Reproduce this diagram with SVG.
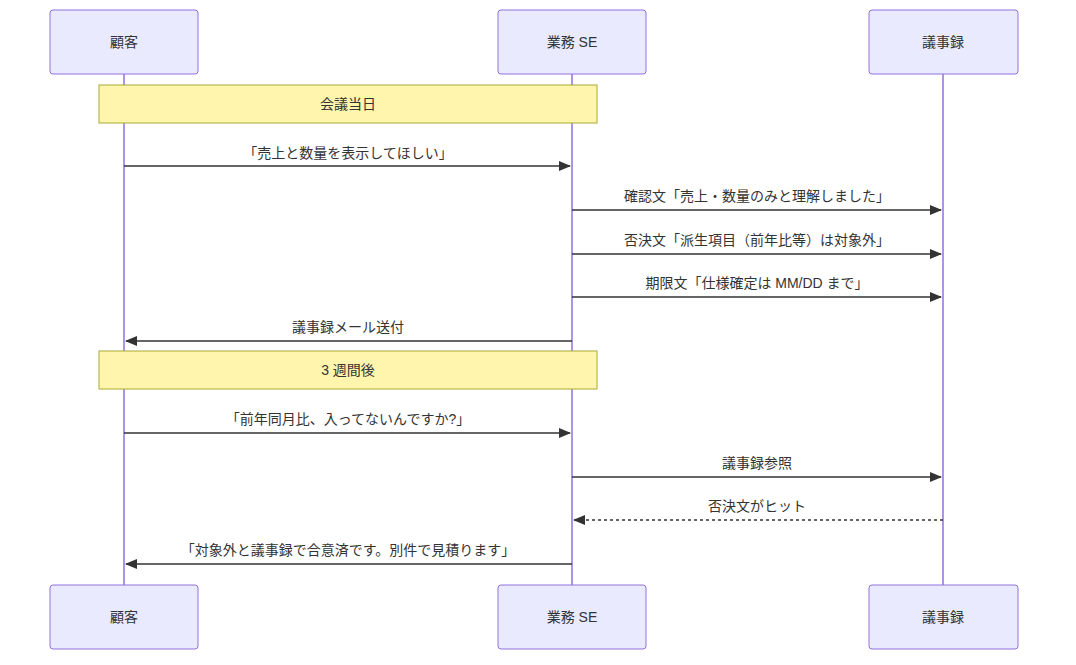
<svg xmlns="http://www.w3.org/2000/svg" width="1076" height="665" viewBox="0 0 1076 665">
<style>
text{font-family:"Liberation Sans","Noto Sans CJK JP",sans-serif;font-size:14px;fill:#333;text-anchor:middle;dominant-baseline:central}
.actor{fill:#eaeaff;stroke:#9370db;stroke-width:1}
.life{stroke:#9370db;stroke-width:1.5}
.note{fill:#fff5ad;stroke:#aaaa33;stroke-width:1}
.msg{stroke:#333;stroke-width:1.5;fill:none}
.dash{stroke-dasharray:3,3}
</style>
<defs><marker id="ah" viewBox="0 0 12 10" refX="11" refY="5" markerWidth="12" markerHeight="10" orient="auto" markerUnits="userSpaceOnUse"><path d="M0,0L12,5L0,10z" fill="#333"/></marker></defs>
<g id="lifelines">
<line class="life" x1="124" y1="74" x2="124" y2="585"/>
<line class="life" x1="572" y1="74" x2="572" y2="585"/>
<line class="life" x1="943" y1="74" x2="943" y2="585"/>
</g>
<g id="actor-customer-top"><rect class="actor" x="50" y="10" width="148" height="64" rx="3"/><text x="124" y="42">顧客</text></g>
<g id="actor-se-top"><rect class="actor" x="498" y="10" width="148" height="64" rx="3"/><text x="572" y="42">業務 SE</text></g>
<g id="actor-minutes-top"><rect class="actor" x="869" y="10" width="149" height="64" rx="3"/><text x="943" y="42">議事録</text></g>
<g id="actor-customer-bottom"><rect class="actor" x="50" y="585" width="148" height="64" rx="3"/><text x="124" y="617">顧客</text></g>
<g id="actor-se-bottom"><rect class="actor" x="498" y="585" width="148" height="64" rx="3"/><text x="572" y="617">業務 SE</text></g>
<g id="actor-minutes-bottom"><rect class="actor" x="869" y="585" width="149" height="64" rx="3"/><text x="943" y="617">議事録</text></g>
<g id="note1"><rect class="note" x="99" y="85" width="498" height="38"/><text x="348" y="104">会議当日</text></g>
<g id="note2"><rect class="note" x="99" y="351" width="498" height="38"/><text x="348" y="370">3 週間後</text></g>
<g id="connectors">
<line class="msg" x1="124" y1="166" x2="570" y2="166" marker-end="url(#ah)"/><text x="348" y="153">「売上と数量を表示してほしい」</text>
<line class="msg" x1="572" y1="210" x2="941" y2="210" marker-end="url(#ah)"/><text x="757" y="196">確認文「売上・数量のみと理解しました」</text>
<line class="msg" x1="572" y1="254" x2="941" y2="254" marker-end="url(#ah)"/><text x="757" y="240">否決文「派生項目（前年比等）は対象外」</text>
<line class="msg" x1="572" y1="297" x2="941" y2="297" marker-end="url(#ah)"/><text x="757" y="283">期限文「仕様確定は MM/DD まで」</text>
<line class="msg" x1="572" y1="341" x2="126" y2="341" marker-end="url(#ah)"/><text x="348" y="327">議事録メール送付</text>
<line class="msg" x1="124" y1="433" x2="570" y2="433" marker-end="url(#ah)"/><text x="348" y="419">「前年同月比、入ってないんですか?」</text>
<line class="msg" x1="572" y1="477" x2="941" y2="477" marker-end="url(#ah)"/><text x="757" y="463">議事録参照</text>
<line class="msg dash" x1="943" y1="520" x2="574" y2="520" marker-end="url(#ah)"/><text x="757" y="506">否決文がヒット</text>
<line class="msg" x1="572" y1="564" x2="126" y2="564" marker-end="url(#ah)"/><text x="348" y="550">「対象外と議事録で合意済です。別件で見積ります」</text>
</g>
</svg>
